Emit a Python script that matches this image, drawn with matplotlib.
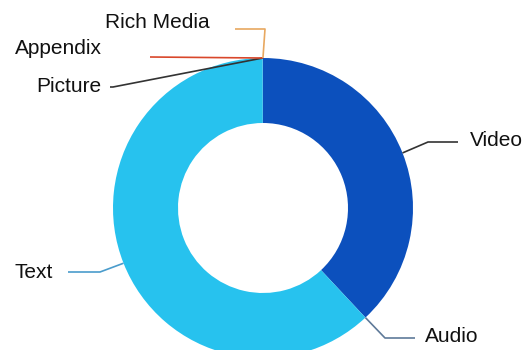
import matplotlib
matplotlib.use("Agg")
import matplotlib.pyplot as plt
import numpy as np

plt.rcParams['font.family'] = ['Liberation Sans', 'DejaVu Sans']

# data (share of content types)
labels = ['Video', 'Audio', 'Text', 'Picture', 'Appendix', 'Rich Media']
values = [37.9, 0.01, 61.7, 0.02, 0.01, 0.01]
colors = ['#0c50bd', '#0c50bd', '#27c2ee', '#27c2ee', '#27c2ee', '#0c50bd']
line_colors = ['#333333', '#5f7a99', '#4a9ccc', '#333333', '#d9472b', '#e8a860']

# label layout in pixels from top-left: elbow, line end, text point, alignment
elbows = [(428, 142), (385, 338), (100, 272), (113, 87), (150, 57), (265, 29)]
line_ends = [(458, 142), (415, 338), (68, 272), (110, 87), (150, 57), (235, 29)]
text_pos = [(470, 140), (425, 337), (53, 273), (101, 87), (102, 48), (210, 22)]
aligns = ['left', 'left', 'right', 'right', 'right', 'right']

W, H = 525, 350
cx, cy, R, ring = 263, H - 208, 150, 65

fig = plt.figure(figsize=(W / 100, H / 100), dpi=100)
ax = fig.add_axes([0, 0, 1, 1])

wedges, _ = ax.pie(values, colors=colors, startangle=90, counterclock=False,
                   center=(cx, cy), radius=R, frame=True,
                   wedgeprops=dict(width=ring, linewidth=0))
ax.set_xlim(0, W)
ax.set_ylim(0, H)
ax.set_aspect('equal')
ax.axis('off')

for i, w in enumerate(wedges):
    mid = np.deg2rad((w.theta1 + w.theta2) / 2)
    px = cx + R * np.cos(mid)
    py = cy + R * np.sin(mid)
    ex, ey = elbows[i]
    lx, ly = line_ends[i]
    tx, ty = text_pos[i]
    ax.plot([px, ex, lx], [py, H - ey, H - ly], color=line_colors[i], lw=1.2,
            solid_capstyle='butt', zorder=3)
    ax.text(tx, H - ty, labels[i], ha=aligns[i], va='center', fontsize=15,
            color='#111111')

fig.savefig('out.png', dpi=100)
